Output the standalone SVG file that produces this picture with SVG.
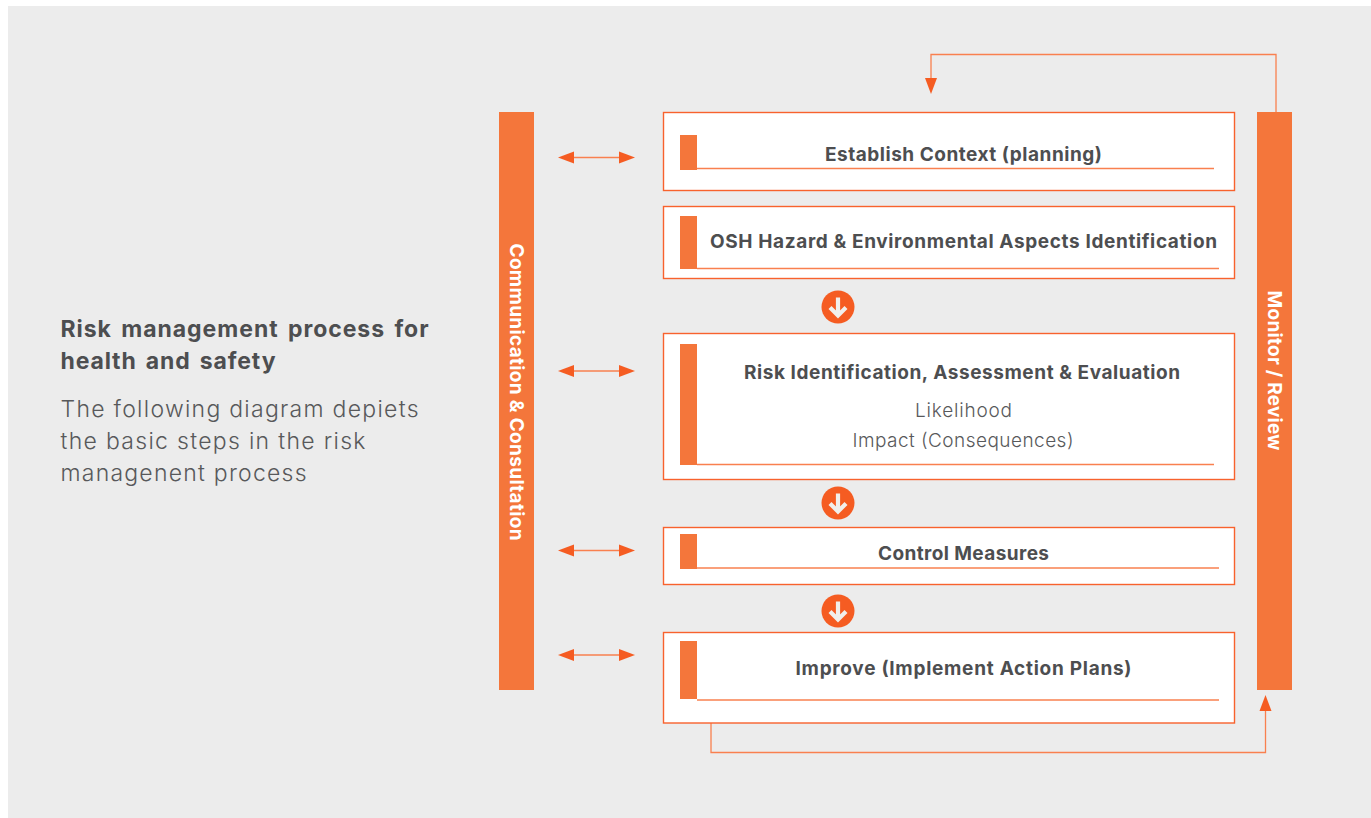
<svg xmlns="http://www.w3.org/2000/svg" width="1371" height="818" viewBox="0 0 1371 818">
<style>
.box{fill:#fff;stroke:#f8622d;stroke-width:1.4}
.bar,.tab{fill:#f4763b}
.rule,.wire{fill:none;stroke:#f9804f;stroke-width:1.3}
.head{fill:#f55c22}
.dot{fill:#f55c22}
.down{fill:none;stroke:#f1efec;stroke-width:4.2;stroke-linejoin:miter}
text{font-family:"Inter","Open Sans","Liberation Sans",sans-serif;fill:#4d4e50}
.b{font-weight:700;font-size:19px}
.r{font-weight:300;font-size:19px;fill:#58595b}
.h{font-weight:700;font-size:23px;word-spacing:3px}
.p{font-weight:300;font-size:23px;fill:#58595b}
.v{font-weight:700;font-size:19px;fill:#fff}
</style>
<defs>
<g id="dbl"><line class="wire" x1="572" x2="622" y1="0" y2="0"/><path class="head" d="M558 0L574 -6V6Z"/><path class="head" d="M635 0L619 -6V6Z"/></g>
<g id="circ"><circle class="dot" r="16.500"/><path class="down" d="M0 -9.500V8M-8 0.500L0 8.500L8 0.500"/></g>
</defs>
<rect x="8" y="6" width="1363" height="812" fill="#ececec"/>
<g id="intro">
<text class="h" x="60.500" y="337" textLength="368">Risk management process for</text>
<text class="h" x="60.500" y="369" textLength="215">health and safety</text>
<text class="p" x="60.500" y="417" textLength="358">The following diagram depiets</text>
<text class="p" x="60.500" y="449" textLength="305">the basic steps in the risk</text>
<text class="p" x="60.500" y="481" textLength="246">managenent process</text>
</g>
<g id="connectors">
<use href="#dbl" y="157.500"/>
<use href="#dbl" y="371"/>
<use href="#dbl" y="550.500"/>
<use href="#dbl" y="655"/>
<path class="wire" d="M1276 112V54.500H931V80"/>
<path class="head" d="M931 94L925 78H937Z"/>
<path class="wire" d="M711 723V752.500H1265.500V709"/>
<path class="head" d="M1265.500 695L1259.500 711H1271.500Z"/>
<use href="#circ" x="838" y="307"/>
<use href="#circ" x="838" y="503"/>
<use href="#circ" x="838" y="611"/>
</g>
<g id="comm">
<rect class="bar" x="499" y="112" width="35" height="578"/>
<text class="v" transform="translate(510,243.500) rotate(90)" textLength="297">Communication &amp; Consultation</text>
</g>
<g id="monitor">
<rect class="bar" x="1257" y="112" width="35" height="578"/>
<text class="v" transform="translate(1268,290.500) rotate(90)" textLength="160">Monitor / Review</text>
</g>
<g id="step1">
<rect class="box" x="663.500" y="112.500" width="571" height="78"/>
<rect class="tab" x="680" y="135" width="17" height="35"/>
<line class="rule" x1="697" x2="1214" y1="168.500" y2="168.500"/>
<text class="b" x="825" y="161" textLength="277">Establish Context (planning)</text>
</g>
<g id="step2">
<rect class="box" x="663.500" y="206.500" width="571" height="72"/>
<rect class="tab" x="680" y="216" width="17" height="53"/>
<line class="rule" x1="697" x2="1219" y1="268.500" y2="268.500"/>
<text class="b" x="710" y="248" textLength="507">OSH Hazard &amp; Environmental Aspects Identification</text>
</g>
<g id="step3">
<rect class="box" x="663.500" y="333.500" width="571" height="146"/>
<rect class="tab" x="680" y="344" width="17" height="121"/>
<line class="rule" x1="697" x2="1214" y1="464.500" y2="464.500"/>
<text class="b" x="744" y="379" textLength="436">Risk Identification, Assessment &amp; Evaluation</text>
<text class="r" x="915" y="417" textLength="97">Likelihood</text>
<text class="r" x="852.500" y="447" textLength="221">Impact (Consequences)</text>
</g>
<g id="step4">
<rect class="box" x="663.500" y="527.500" width="571" height="57"/>
<rect class="tab" x="680" y="534" width="17" height="35"/>
<line class="rule" x1="697" x2="1219" y1="568" y2="568"/>
<text class="b" x="878" y="560" textLength="171">Control Measures</text>
</g>
<g id="step5">
<rect class="box" x="663.500" y="632.500" width="571" height="90.500"/>
<rect class="tab" x="680" y="641" width="17" height="58"/>
<line class="rule" x1="697" x2="1219" y1="700" y2="700"/>
<text class="b" x="795.500" y="675" textLength="336">Improve (Implement Action Plans)</text>
</g>
</svg>
